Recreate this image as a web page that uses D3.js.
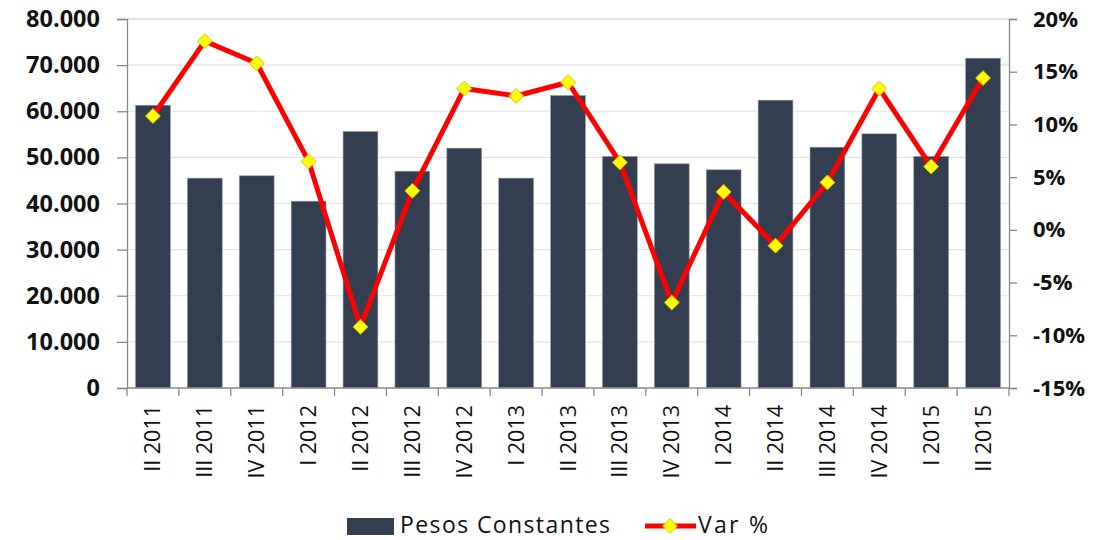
<!DOCTYPE html>
<html>
<head>
<meta charset="utf-8">
<script src="https://cdn.jsdelivr.net/npm/d3@7"></script>
<style>
  body { margin: 0; background: #fff; }
  svg { display: block; font-family: "Open Sans", sans-serif; }
</style>
</head>
<body>
<svg id="chart" width="1109" height="540"></svg>
<script>
// quarters
var categories = ["II 2011","III 2011","IV 2011","I 2012","II 2012","III 2012","IV 2012","I 2013",
  "II 2013","III 2013","IV 2013","I 2014","II 2014","III 2014","IV 2014","I 2015","II 2015"];

// bars: pesos constantes
var pesos = [61300, 45500, 46000, 40500, 55600, 47000, 52000, 45500,
  63400, 50200, 48600, 47300, 62400, 52200, 55100, 50200, 71500];

// line: var % (percent)
var varPct = [10.8, 17.9, 15.8, 6.5, -9.2, 3.7, 13.4, 12.7,
  14.0, 6.4, -6.9, 3.6, -1.5, 4.5, 13.4, 6.0, 14.4];

var leftTicks = [0, 10000, 20000, 30000, 40000, 50000, 60000, 70000, 80000];
var rightTicks = [-15, -10, -5, 0, 5, 10, 15, 20];

var svg = d3.select('#chart');
var plotLeft = 127, plotRight = 1009, plotTop = 19, plotBottom = 388;

var x = d3.scaleBand().domain(categories).range([plotLeft, plotRight]).paddingInner(0.33).paddingOuter(0.165);
var y = d3.scaleLinear().domain([0, 80000]).range([plotBottom, plotTop]);
var y2 = d3.scaleLinear().domain([-15, 20]).range([plotBottom, plotTop]);

var fmt = function(v){ return d3.format(',')(v).replace(/,/g, '.'); };

// gridlines
svg.append('g').selectAll('line')
  .data(leftTicks.filter(function(d){ return d > 0; }))
  .enter().append('line')
  .attr('x1', plotLeft).attr('x2', plotRight)
  .attr('y1', function(d){ return y(d); }).attr('y2', function(d){ return y(d); })
  .attr('stroke', function(d){ return d === 80000 ? '#c8c8c8' : '#e4e4e4'; })
  .attr('stroke-width', 1.2);

// bars
svg.append('g').selectAll('rect')
  .data(pesos)
  .enter().append('rect')
  .attr('x', function(d, i){ return x(categories[i]); })
  .attr('width', x.bandwidth())
  .attr('y', function(d){ return y(d); })
  .attr('height', function(d){ return y(0) - y(d); })
  .attr('fill', '#333f50')
  .attr('stroke', '#8c96a3')
  .attr('stroke-width', 0.6);

// left axis
var gl = svg.append('g').attr('transform', 'translate(' + plotLeft + ',0)')
  .call(d3.axisLeft(y).tickValues(leftTicks).tickFormat(fmt).tickSizeOuter(0).tickSize(10).tickPadding(17));
gl.select('.domain').attr('stroke', '#8a8a8a').attr('stroke-width', 1.3);
gl.selectAll('.tick line').attr('stroke', '#8a8a8a').attr('stroke-width', 1.3);
gl.selectAll('text').attr('font-size', 23.5).attr('font-weight', 'bold').attr('fill', '#111')
  .attr('font-family', '"Open Sans", sans-serif');

// right axis
var gr = svg.append('g').attr('transform', 'translate(' + plotRight + ',0)')
  .call(d3.axisRight(y2).tickValues(rightTicks).tickFormat(function(d){ return d + '%'; })
    .tickSizeOuter(0).tickSize(8).tickPadding(16));
gr.select('.domain').attr('stroke', '#8a8a8a').attr('stroke-width', 1.3);
gr.selectAll('.tick line').attr('stroke', '#8a8a8a').attr('stroke-width', 1.3);
gr.selectAll('text').attr('font-size', 22).attr('font-weight', 'bold').attr('fill', '#111')
  .attr('font-family', '"Open Sans", sans-serif');

// bottom axis line + boundary ticks
var step = x.step();
var bounds = categories.map(function(c){ return x(c) - step * 0.165; });
bounds.push(plotRight);
var gb = svg.append('g');
gb.append('line').attr('x1', plotLeft).attr('x2', plotRight).attr('y1', plotBottom).attr('y2', plotBottom)
  .attr('stroke', '#8a8a8a').attr('stroke-width', 1.3);
gb.selectAll('line.tk').data(bounds).enter().append('line').attr('class', 'tk')
  .attr('x1', function(d){ return d; }).attr('x2', function(d){ return d; })
  .attr('y1', plotBottom).attr('y2', plotBottom + 8)
  .attr('stroke', '#8a8a8a').attr('stroke-width', 1.3);
gb.selectAll('text').data(categories).enter().append('text')
  .attr('transform', function(d){
    return 'translate(' + (x(d) + x.bandwidth() / 2 + 7.5) + ',' + (plotBottom + 17) + ') rotate(-90)';
  })
  .attr('text-anchor', 'end')
  .attr('font-size', 21.5)
  .attr('fill', '#111')
  .text(function(d){ return d; });

// line
var line = d3.line()
  .x(function(d, i){ return x(categories[i]) + x.bandwidth() / 2; })
  .y(function(d){ return y2(d); });
svg.append('path').datum(varPct)
  .attr('d', line)
  .attr('fill', 'none')
  .attr('stroke', '#ff0000')
  .attr('stroke-width', 5)
  .attr('stroke-linejoin', 'round');

var diamond = d3.symbol().type(d3.symbolDiamond2).size(140);
svg.append('g').selectAll('path')
  .data(varPct)
  .enter().append('path')
  .attr('d', diamond)
  .attr('transform', function(d, i){
    return 'translate(' + (x(categories[i]) + x.bandwidth() / 2) + ',' + y2(d) + ')';
  })
  .attr('fill', '#ffff00')
  .attr('stroke', '#e0c000')
  .attr('stroke-width', 1);

// legend
var lg = svg.append('g');
lg.append('rect').attr('x', 347).attr('y', 518).attr('width', 47).attr('height', 17).attr('fill', '#333f50');
lg.append('text').attr('x', 400).attr('y', 533).attr('font-size', 23).attr('fill', '#111')
  .attr('textLength', 210).attr('lengthAdjust', 'spacing').text('Pesos Constantes');
lg.append('line').attr('x1', 645).attr('x2', 696).attr('y1', 526).attr('y2', 526)
  .attr('stroke', '#ff0000').attr('stroke-width', 5);
lg.append('path').attr('d', diamond).attr('transform', 'translate(670,526)')
  .attr('fill', '#ffff00').attr('stroke', '#e0c000').attr('stroke-width', 1);
lg.append('text').attr('x', 698).attr('y', 533).attr('font-size', 23).attr('fill', '#111')
  .attr('textLength', 70).attr('lengthAdjust', 'spacing').text('Var %');
</script>
</body>
</html>
